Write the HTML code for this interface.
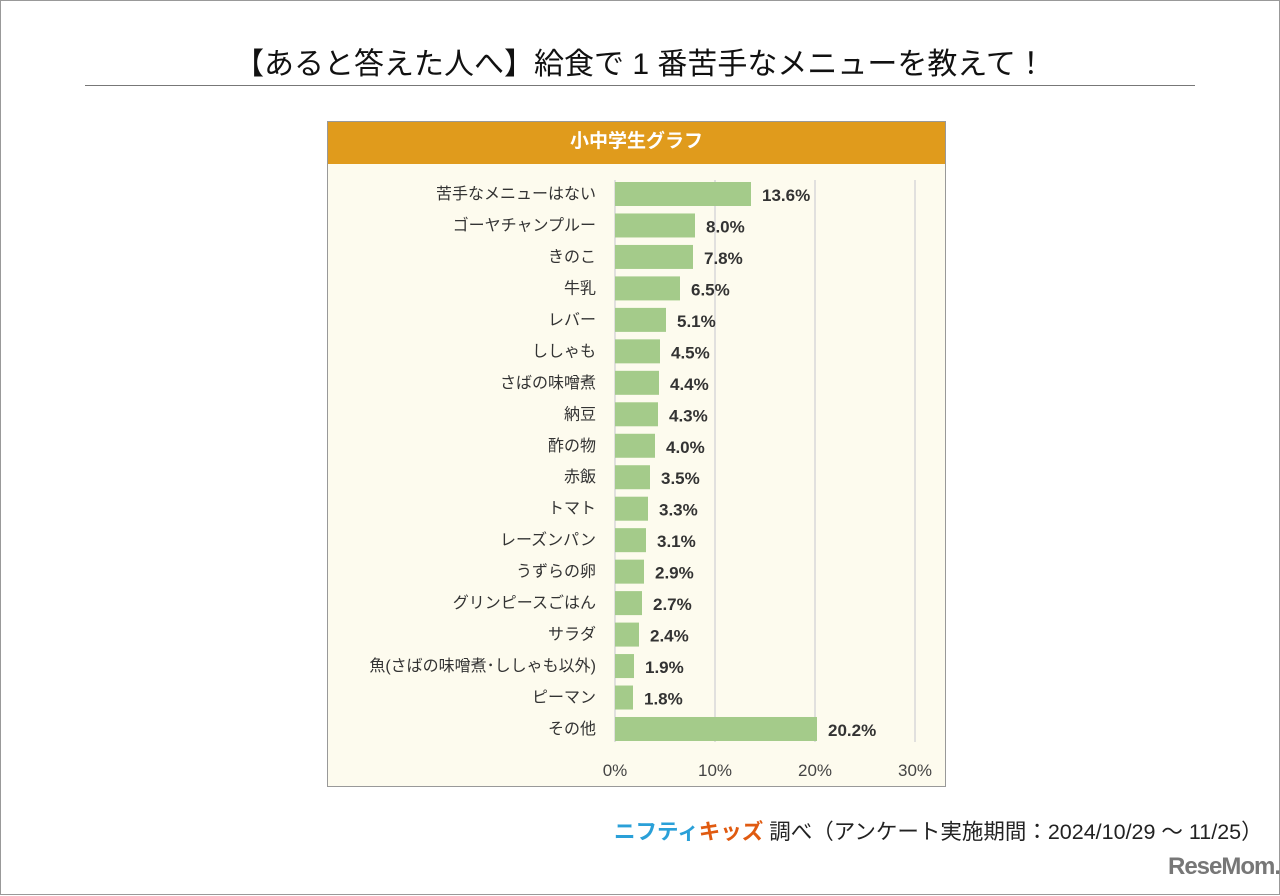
<!DOCTYPE html>
<html><head><meta charset="utf-8"><style>
body{margin:0;width:1280px;height:896px;background:#fff;position:relative;font-family:"Liberation Sans","Noto Sans CJK JP",sans-serif;overflow:hidden}
.frame{position:absolute;left:0;top:0;width:1278px;height:893px;border:1px solid #999}
.title{position:absolute;left:0;width:1280px;top:39px;text-align:center;font-size:30px;color:#111}
.rule{position:absolute;left:85px;top:85px;width:1110px;height:1px;background:#777}
.box{position:absolute;left:327px;top:121px;width:617px;height:664px;border:1px solid #999;background:#fdfbee}
.hdr{position:absolute;left:0;top:0;width:617px;height:42px;background:#e09b1c;color:#fff;font-weight:bold;font-size:19px;text-align:center;line-height:40px}
.foot{position:absolute;left:614px;top:815px;font-size:21.5px;color:#222}
.logo{position:absolute;left:1168px;top:853px;font-size:24px;font-weight:bold;color:#777;letter-spacing:-1px}
</style></head><body>
<div class="frame"></div>
<div class="title">【あると答えた人へ】給食で 1 番苦手なメニューを教えて！</div>
<div class="rule"></div>
<div class="box">
<div class="hdr">小中学生グラフ</div>
</div>
<svg id="chart" width="1280" height="896" style="position:absolute;left:0;top:0"></svg>
<div class="foot"><span style="color:#2aa0d8;font-weight:bold">ニフティ</span><span style="color:#e05a10;font-weight:bold">キッズ</span> 調べ（アンケート実施期間：2024/10/29 ～ 11/25）</div>
<div class="logo">ReseMom.</div>
<script>
const categories=["苦手なメニューはない","ゴーヤチャンプルー","きのこ","牛乳","レバー","ししゃも","さばの味噌煮","納豆","酢の物","赤飯","トマト","レーズンパン","うずらの卵","グリンピースごはん","サラダ","魚(さばの味噌煮･ししゃも以外)","ピーマン","その他"];
const values=[13.6,8.0,7.8,6.5,5.1,4.5,4.4,4.3,4.0,3.5,3.3,3.1,2.9,2.7,2.4,1.9,1.8,20.2];
const ticks=[0,10,20,30];
const NS="http://www.w3.org/2000/svg";
const svg=document.getElementById('chart');
const x=v=>615+v*10;
const y=i=>194+i*31.47;
function mk(t,a){const e=document.createElementNS(NS,t);for(const k in a)e.setAttribute(k,a[k]);svg.appendChild(e);return e;}
ticks.forEach(t=>{
 const g=mk('line',{x1:x(t),x2:x(t),y1:180,y2:742,stroke:'#d8d8d8','stroke-width':1.5});
 
 
 const l=mk('text',{x:x(t),y:776,'text-anchor':'middle','font-size':17,fill:'#444'});
 l.textContent=t+'%';
 
 
});
categories.forEach((c,i)=>{
 const b=mk('rect',{x:x(0),y:y(i)-12,width:x(values[i])-x(0),height:24,fill:'#a4cb8a'});
 
 
 const l=mk('text',{x:596,y:y(i)+5,'text-anchor':'end','font-size':16,fill:'#333'});
 l.textContent=c;
 
 
 const v=mk('text',{x:x(values[i])+11,y:y(i)+7,'font-size':17,'font-weight':'bold',fill:'#333'});
 v.textContent=values[i].toFixed(1)+'%';
 
 
});
</script>
</body></html>
